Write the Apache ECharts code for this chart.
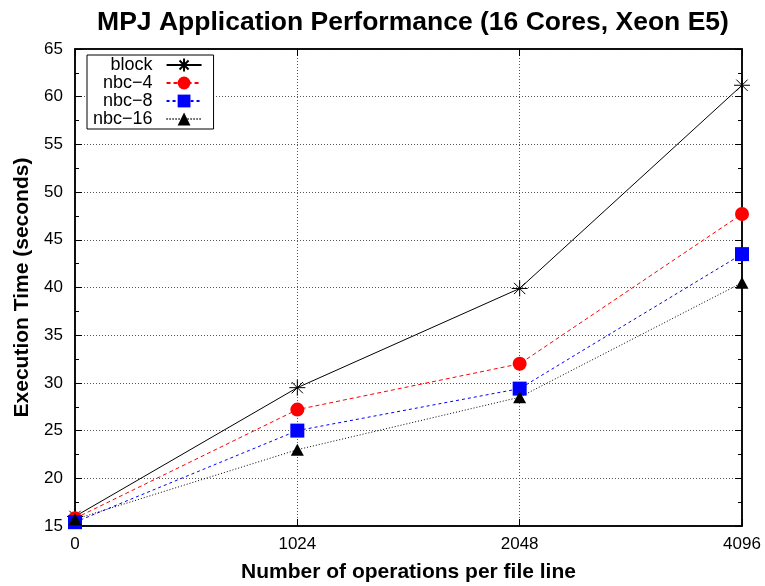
<!DOCTYPE html>
<html>
<head>
<meta charset="utf-8">
<script src="https://cdn.jsdelivr.net/npm/echarts@6/dist/echarts.min.js"></script>
<style>
  html, body { margin: 0; padding: 0; background: #fff; }
  #chart { width: 765px; height: 586px; }
</style>
</head>
<body>
<div id="chart"></div>
<script>
// Operations per file line (x categories)
const categories = ['0', '1024', '2048', '4096'];

// Execution time in seconds for each strategy
const blockTimes = [16.0, 29.5, 39.9, 61.2];
const nbc4Times = [15.8, 27.2, 32.0, 47.7];
const nbc8Times = [15.4, 25.0, 29.4, 43.5];
const nbc16Times = [15.7, 23.0, 28.5, 40.5];

const yMin = 15, yMax = 65, yStep = 5;

const FONT = '"Liberation Sans", Arial, Helvetica, sans-serif';

// Eight-armed star marker
const starPath = 'path://M0,-10L0,10M-10,0L10,0M-7.07,-7.07L7.07,7.07M-7.07,7.07L7.07,-7.07';

const chart = echarts.init(document.getElementById('chart'), null, { renderer: 'canvas' });

const gridLine = { show: true, lineStyle: { color: '#555', width: 1, type: [1, 2] } };

chart.setOption({
  animation: false,
  backgroundColor: '#fff',
  title: {
    text: 'MPJ Application Performance (16 Cores, Xeon E5)',
    left: 408, top: 4, textAlign: 'center',
    textStyle: { fontFamily: FONT, fontWeight: 'bold', fontSize: 26.5, color: '#000' }
  },
  legend: {
    orient: 'vertical',
    left: 87, top: 55,
    align: 'right',
    itemWidth: 35, itemHeight: 16, itemGap: 0,
    padding: [1, 11, 1, 6],
    backgroundColor: '#fff',
    borderColor: '#000', borderWidth: 1, borderRadius: 0,
    textStyle: { fontFamily: FONT, fontSize: 18, lineHeight: 18, color: '#000', padding: [0, 9, 0, 0] },
    data: ['block', 'nbc\u22124', 'nbc\u22128', 'nbc\u221216']
  },
  grid: {
    left: 75, right: 23, top: 49, bottom: 60,
    outerBoundsMode: 'none',
    show: true, borderColor: '#000', borderWidth: 1.5
  },
  xAxis: [{
    type: 'category', data: categories, boundaryGap: false,
    name: 'Number of operations per file line', nameLocation: 'middle', nameGap: 36,
    nameTextStyle: { fontFamily: FONT, fontWeight: 'bold', fontSize: 21, color: '#000' },
    axisLine: { show: true, lineStyle: { color: '#000', width: 1.5 } },
    axisTick: { show: true, inside: true, length: 7, lineStyle: { color: '#000' } },
    axisLabel: { fontFamily: FONT, fontSize: 17, color: '#000', margin: 10 },
    splitLine: gridLine
  }, {
    type: 'category', data: categories, boundaryGap: false, position: 'top',
    axisLine: { show: true, lineStyle: { color: '#000', width: 1.5 } },
    axisTick: { show: true, inside: true, length: 7, lineStyle: { color: '#000' } },
    axisLabel: { show: false }, splitLine: { show: false }
  }],
  yAxis: [{
    type: 'value', min: yMin, max: yMax, interval: yStep,
    name: 'Execution Time (seconds)', nameLocation: 'middle', nameGap: 42,
    nameTextStyle: { fontFamily: FONT, fontWeight: 'bold', fontSize: 21, color: '#000' },
    axisLine: { show: true, lineStyle: { color: '#000', width: 1.5 } },
    axisTick: { show: true, inside: true, length: 7, lineStyle: { color: '#000' } },
    minorTick: { show: true, splitNumber: 2, length: 4, lineStyle: { color: '#000' } },
    axisLabel: { fontFamily: FONT, fontSize: 17, color: '#000', margin: 12 },
    splitLine: gridLine
  }, {
    type: 'value', min: yMin, max: yMax, interval: yStep, position: 'right',
    axisLine: { show: true, lineStyle: { color: '#000', width: 1.5 } },
    axisTick: { show: true, inside: true, length: 7, lineStyle: { color: '#000' } },
    minorTick: { show: true, splitNumber: 2, length: 4, lineStyle: { color: '#000' } },
    axisLabel: { show: false }, splitLine: { show: false }
  }],
  series: [{
    name: 'block', type: 'line', data: blockTimes,
    symbol: starPath, symbolSize: 16,
    itemStyle: { color: '#000', borderColor: '#000', borderWidth: 1 },
    lineStyle: { color: '#000', width: 1, type: 'solid' }
  }, {
    name: 'nbc\u22124', type: 'line', data: nbc4Times,
    symbol: 'circle', symbolSize: 14,
    itemStyle: { color: '#ff0000' },
    lineStyle: { color: '#ff0000', width: 1, type: [4, 3] }
  }, {
    name: 'nbc\u22128', type: 'line', data: nbc8Times,
    symbol: 'rect', symbolSize: 14,
    itemStyle: { color: '#0000ff' },
    lineStyle: { color: '#0000ff', width: 1, type: [3, 3] }
  }, {
    name: 'nbc\u221216', type: 'line', data: nbc16Times,
    symbol: 'triangle', symbolSize: [13, 12],
    itemStyle: { color: '#000' },
    lineStyle: { color: '#000', width: 1, type: [1, 2] }
  }]
});
</script>
</body>
</html>
